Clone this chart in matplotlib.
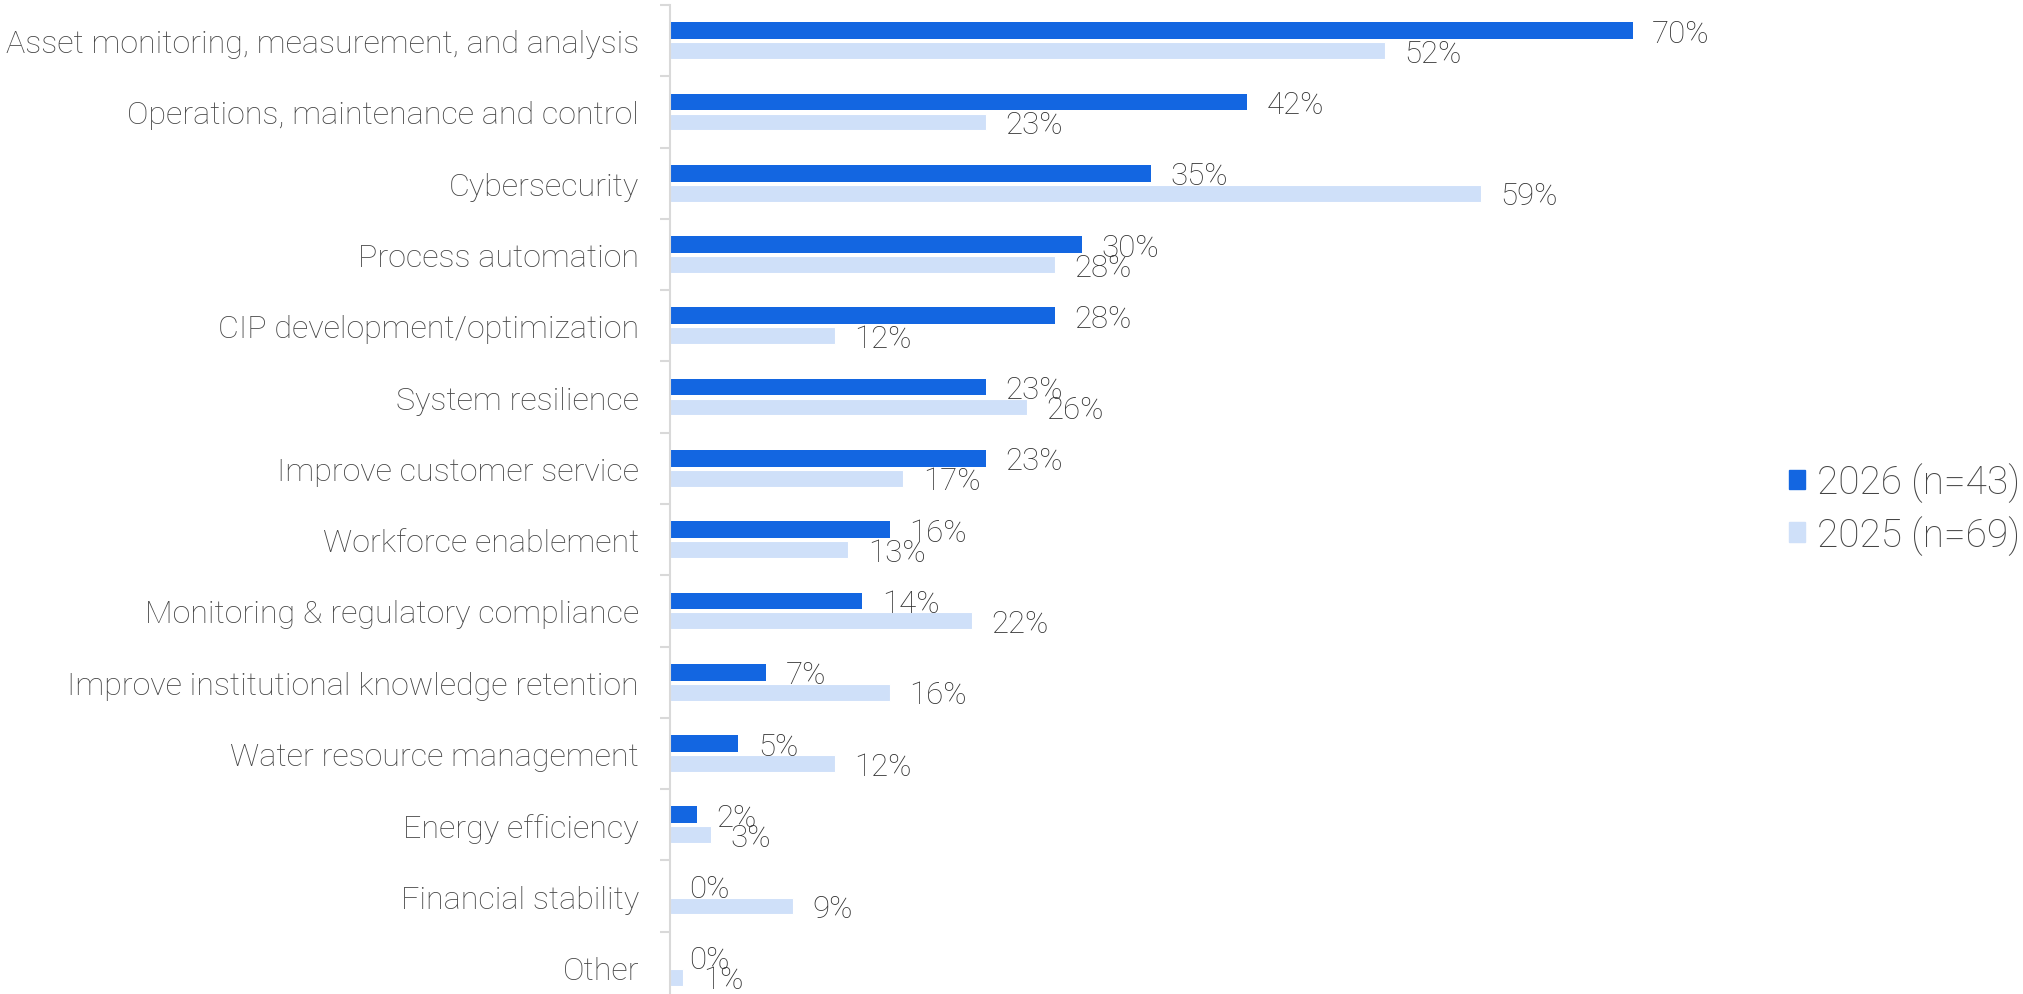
import matplotlib.pyplot as plt
import numpy as np
from matplotlib.patches import Patch

# dados
categorias = [
    "Asset monitoring, measurement, and analysis",
    "Operations, maintenance and control",
    "Cybersecurity",
    "Process automation",
    "CIP development/optimization",
    "System resilience",
    "Improve customer service",
    "Workforce enablement",
    "Monitoring & regulatory compliance",
    "Improve institutional knowledge retention",
    "Water resource management",
    "Energy efficiency",
    "Financial stability",
    "Other",
]
valores_2026 = [70, 42, 35, 30, 28, 23, 23, 16, 14, 7, 5, 2, 0, 0]
valores_2025 = [52, 23, 59, 28, 12, 26, 17, 13, 22, 16, 12, 3, 9, 1]
series = ["2026 (n=43)", "2025 (n=69)"]

cor_2026 = '#1366E1'
cor_2025 = '#CFE0F9'
cor_texto = '#454545'

plt.rcParams['font.family'] = ['Roboto', 'DejaVu Sans']

fig = plt.figure(figsize=(20.23, 9.95), dpi=100)
ax = fig.add_axes([0.331, -0.009, 0.543, 1.003])

y = np.arange(len(categorias))
altura = 0.235
desloc = 0.14

b1 = ax.barh(y - desloc, valores_2026, height=altura, color=cor_2026)
b2 = ax.barh(y + desloc, valores_2025, height=altura, color=cor_2025,
             edgecolor='white', linewidth=0.8)

for barras in (b1, b2):
    rotulos = ax.bar_label(barras, labels=[f'{v}%' for v in barras.datavalues],
                           padding=14, fontsize=22.5, color='#333333',
                           fontweight='light')
    # rótulos um pouco abaixo do centro da barra, como no original
    for r in rotulos:
        r.xyann = (14, -1.9)

ax.set_ylim(len(categorias) - 0.5, -0.5)
ax.set_xlim(0, 79.85)
ax.set_yticks(y)
ax.set_yticklabels(categorias, fontsize=23.2, color=cor_texto, fontweight='light')
ax.set_yticks(np.arange(len(categorias) + 1) - 0.5, minor=True)
ax.tick_params(axis='y', which='major', length=0, pad=22)
ax.tick_params(axis='y', which='minor', length=7, color='#D9D9D9', width=1.5)
ax.set_xticks([])

for lado in ('top', 'right', 'bottom'):
    ax.spines[lado].set_visible(False)
ax.spines['left'].set_color('#D9D9D9')
ax.spines['left'].set_linewidth(1.5)

handles = [Patch(color=cor_2026), Patch(color=cor_2025)]
leg = fig.legend(handles, series, loc='center left',
                 bbox_to_anchor=(0.8845, 0.488), frameon=False,
                 fontsize=28, handlelength=0.4, handleheight=0.4,
                 handletextpad=0.3, labelspacing=0.32, borderpad=0,
                 borderaxespad=0)
for t in leg.get_texts():
    t.set_color(cor_texto)
    t.set_fontweight('light')

fig.savefig('out.png', dpi=100)
